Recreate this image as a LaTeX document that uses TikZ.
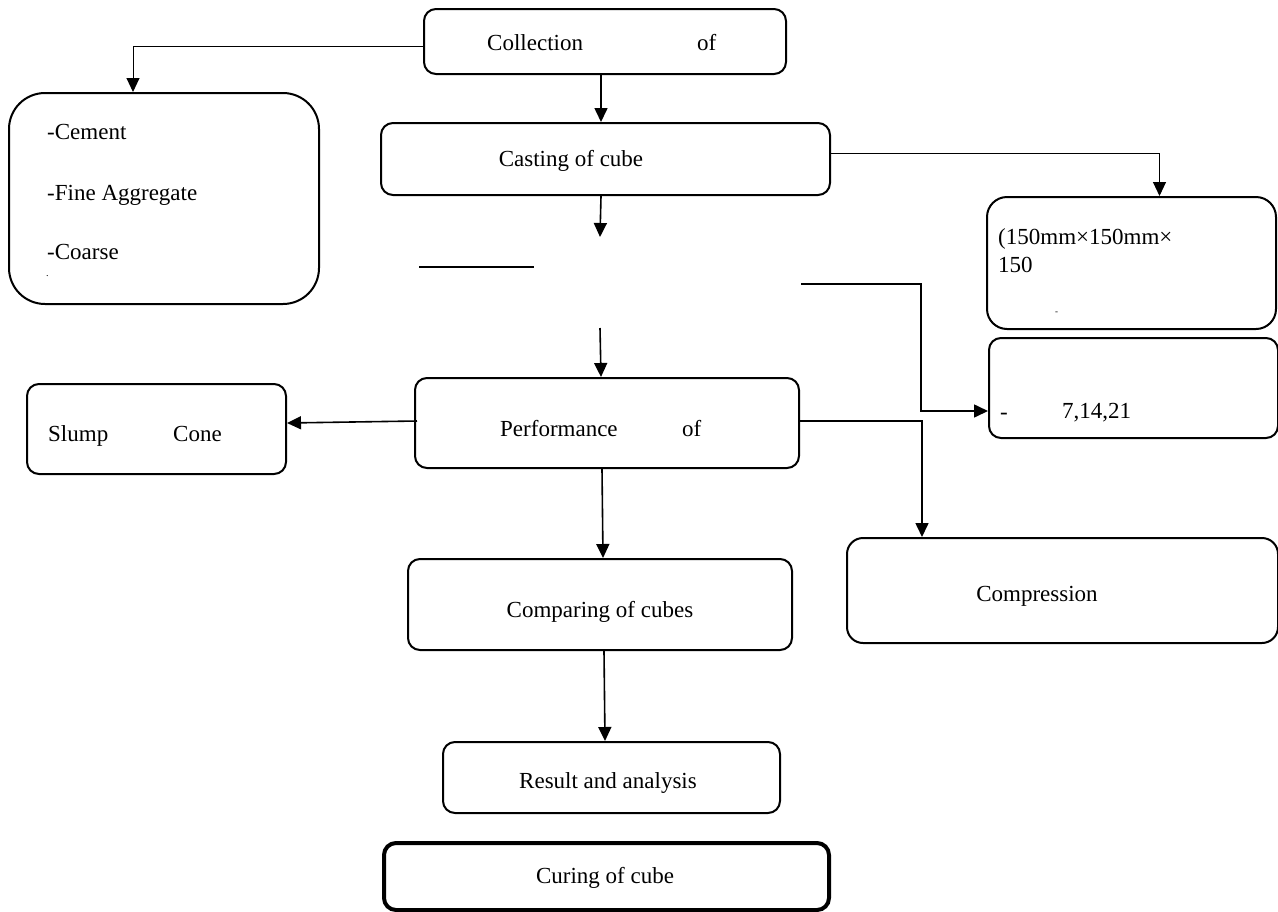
\documentclass[tikz,border=0pt]{standalone}
\usepackage{fontspec}
\setmainfont{Liberation Serif}
\usetikzlibrary{arrows.meta}
\begin{document}
\begin{tikzpicture}[x=1pt,y=-1pt,
  box/.style={draw, line width=2pt, rounded corners=12pt, anchor=north west, inner sep=0pt},
  txt/.style={font=\fontsize{23}{27}\selectfont, inner sep=0pt, anchor=base west},
  ctxt/.style={font=\fontsize{23}{27}\selectfont, inner sep=0pt, anchor=base},
  conn/.style={line width=1.6pt, -{Triangle[length=14pt,width=13pt]}},
  thin/.style={line width=1pt},
  plain/.style={line width=1.6pt}]
\useasboundingbox (0,0) rectangle (1278,911);
% boxes
\node[box, minimum width=362pt, minimum height=65pt] (coll) at (423,8) {};
\node[box, minimum width=310pt, minimum height=211pt, rounded corners=36pt] (mat) at (8,92) {};
\node[box, minimum width=449pt, minimum height=72pt] (cast) at (380,122) {};
\node[box, minimum width=289pt, minimum height=132pt, rounded corners=20pt] (b150) at (986,196) {};
\node[box, minimum width=289pt, minimum height=100pt] (b7) at (988,337) {};
\node[box, minimum width=384pt, minimum height=90pt] (perf) at (414,377) {};
\node[box, minimum width=259pt, minimum height=90pt] (slump) at (26,383) {};
\node[box, minimum width=431pt, minimum height=105pt, rounded corners=16pt] (comp) at (846,537) {};
\node[box, minimum width=384pt, minimum height=91pt] (cmpr) at (407,558) {};
\node[box, minimum width=337pt, minimum height=71pt] (res) at (442,741) {};
\node[box, line width=4pt, minimum width=445pt, minimum height=67pt] (cur) at (382,841) {};
% texts
\node[txt] (t1a) at (487,50) {Collection};
\node[txt] (t1b) at (697,50) {of};
\node[txt] (t2a) at (47,139) {-Cement};
\node[txt] (t2b) at (47,200) {-Fine Aggregate};
\node[txt] (t2c) at (47,259) {-Coarse};
\node[txt, font=\fontsize{10}{12}\selectfont] (t2d) at (46,276) {.};
\node[ctxt] (t3) at (571,166) {Casting of cube};
\node[txt] (t4a) at (998,244) {(150mm×150mm×};
\node[txt] (t4b) at (998,272) {150};
\node[txt, font=\fontsize{9}{11}\selectfont] (t4c) at (1055,314) {-};
\node[txt] (t5a) at (1000,419) {-};
\node[txt] (t5b) at (1062,418) {7,14,21};
\node[txt] (t6a) at (500,436) {Performance};
\node[txt] (t6b) at (682,436) {of};
\node[txt] (t7a) at (48,441) {Slump};
\node[txt] (t7b) at (173,441) {Cone};
\node[ctxt] (t8) at (1037,601) {Compression};
\node[ctxt] (t9) at (600,617) {Comparing of cubes};
\node[ctxt] (t10) at (608,788) {Result and analysis};
\node[ctxt] (t11) at (605,883) {Curing of cube};
% free coordinates
\coordinate (c1) at (600,237);
\coordinate (s1) at (419,267);
\coordinate (s2) at (534,267);
\coordinate (l1) at (801,284);
\coordinate (l2) at (921,284);
\coordinate (c2) at (600,328);
% connectors
\draw[thin, -{Triangle[length=14pt,width=13pt]}] ([yshift=-4.5pt]coll.west) -| ([xshift=125pt]mat.north west);
\draw[conn] ([xshift=-4pt]coll.south) -- ([xshift=-4.5pt]cast.north);
\draw[thin, -{Triangle[length=14pt,width=13pt]}] ([yshift=6pt]cast.east) -| ([xshift=28pt]b150.north);
\draw[conn] ([xshift=-4.5pt]cast.south) -- (c1);
\draw[plain] (s1) -- (s2);
\draw[conn] (l1) -- (l2) |- ([yshift=-23pt]b7.west);
\draw[conn] (c2) -- ([xshift=-6pt]perf.north);
\draw[conn] ([xshift=3pt,yshift=2pt]perf.west) -- ([yshift=6pt]slump.east);
\draw[conn] ([yshift=2pt]perf.east) -| ([xshift=-140.5pt]comp.north);
\draw[conn] ([xshift=-5pt]perf.south) -- ([xshift=3pt]cmpr.north);
\draw[conn] ([xshift=4pt]cmpr.south) -- ([xshift=-6.5pt]res.north);
\end{tikzpicture}
\end{document}
